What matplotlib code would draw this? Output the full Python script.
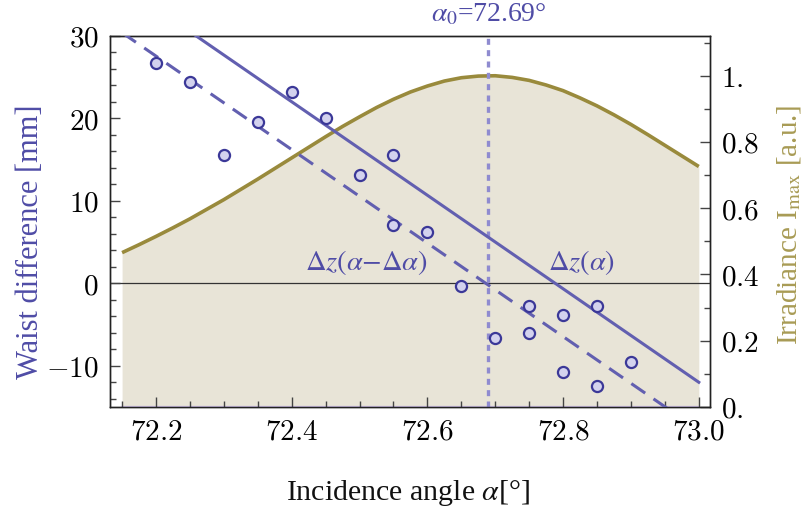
import matplotlib
matplotlib.use("Agg")
import matplotlib.pyplot as plt
from matplotlib.ticker import MultipleLocator, FixedLocator

plt.rcParams['font.family'] = ['Liberation Serif', 'DejaVu Serif']
plt.rcParams['mathtext.fontset'] = 'stix'

# ---- data ----
angle_meas = [72.20, 72.25, 72.30, 72.35, 72.40, 72.45, 72.50, 72.55, 72.55, 72.60,
              72.65, 72.70, 72.75, 72.75, 72.80, 72.80, 72.85, 72.85, 72.90]
waist_meas = [26.7, 24.4, 15.6, 19.6, 23.2, 20.0, 13.1, 15.6, 7.1, 6.2,
              -0.3, -6.6, -2.7, -6.0, -3.8, -10.8, -2.7, -12.5, -9.5]

fit_angle = [72.15, 73.00]
fit_dz = [36.2, -12.0]            # Δz(α)
fit_dz_shift = [30.4, -17.8]      # Δz(α−Δα)

irr_angle = [72.150, 72.175, 72.200, 72.225, 72.250, 72.275, 72.300, 72.325, 72.350,
             72.375, 72.400, 72.425, 72.450, 72.475, 72.500, 72.525, 72.550, 72.575,
             72.600, 72.625, 72.650, 72.675, 72.700, 72.725, 72.750, 72.775, 72.800,
             72.825, 72.850, 72.875, 72.900, 72.925, 72.950, 72.975, 73.000]
irr_value = [0.466, 0.490, 0.515, 0.541, 0.568, 0.597, 0.626, 0.657, 0.688,
             0.720, 0.752, 0.784, 0.816, 0.847, 0.876, 0.904, 0.929, 0.951,
             0.969, 0.984, 0.994, 0.999, 1.000, 0.995, 0.986, 0.972, 0.955,
             0.933, 0.909, 0.882, 0.853, 0.822, 0.790, 0.758, 0.726]

alpha0 = 72.69

left_ticks = [30, 20, 10, 0, -10]
right_ticks = [0.0, 0.2, 0.4, 0.6, 0.8, 1.0]
right_ticklabels = ["0.", "0.2", "0.4", "0.6", "0.8", "1."]
x_ticks = [72.2, 72.4, 72.6, 72.8, 73.0]

# ---- colours ----
purple = "#625fb0"
purple_txt = "#4f4ca6"
mk_edge = "#3b3898"
mk_face = "#d3d2ee"
olive = "#998a3c"
olive_txt = "#a89b55"
fill_col = "#e8e4d7"
vline_col = "#8f8bd0"

fig = plt.figure(figsize=(8.03, 5.10), dpi=100)
ax = fig.add_axes([110/803, 102/510, 600/803, 371/510])
ax2 = ax.twinx()

# background irradiance (twin axis)
ax2.fill_between(irr_angle, 0, irr_value, color=fill_col, lw=0, zorder=1)
ax2.plot(irr_angle, irr_value, color=olive, lw=2.6, zorder=2, solid_capstyle='butt')
ax2.plot([irr_angle[0], irr_angle[-1]], [0, 0], color="#c4b6dc", lw=1.6, zorder=3)
ax2.set_ylim(0, 1.12)

ax.set_zorder(ax2.get_zorder() + 1)
ax.patch.set_visible(False)

ax.axhline(0, color="#333333", lw=0.9, zorder=1)
ax.axvline(alpha0, color=vline_col, lw=2.4, dashes=(1.8, 1.6), zorder=2)
ax.plot(fit_angle, fit_dz, color=purple, lw=2.2, zorder=3)
ax.plot(fit_angle, fit_dz_shift, color=purple, lw=2.2, dashes=(5.5, 3.3), zorder=3)
ax.plot(angle_meas, waist_meas, 'o', ms=8.0, mfc=mk_face, mec=mk_edge, mew=1.6,
        zorder=4, clip_on=False)

ax.set_xlim(72.1322, 73.0165)
ax.set_ylim(-15, 30)

tick_kw = dict(fontsize=21, math_fontfamily='cm')

def mt(s):
    return "$" + s + "$"

ax.xaxis.set_major_locator(FixedLocator(x_ticks))
ax.xaxis.set_minor_locator(MultipleLocator(0.05))
ax.set_xticklabels([mt(f"{v:.1f}") for v in x_ticks], **tick_kw)
ax.yaxis.set_major_locator(FixedLocator(left_ticks))
ax.yaxis.set_minor_locator(MultipleLocator(2))
ax.set_yticklabels([mt(str(v)) for v in left_ticks], **tick_kw)

ax2.yaxis.set_major_locator(FixedLocator(right_ticks))
ax2.yaxis.set_minor_locator(MultipleLocator(0.1))
ax2.set_yticklabels([mt(s) for s in right_ticklabels], **tick_kw)

ax.tick_params(which='both', direction='in', top=False, right=False, color="#444444", width=1)
ax.tick_params(which='major', length=7, pad=8)
ax.tick_params(which='minor', length=4)
ax2.tick_params(which='both', direction='in', left=False, right=True, color="#444444", width=1)
ax2.tick_params(which='major', length=7, pad=8)
ax2.tick_params(which='minor', length=4)

for a in (ax, ax2):
    for s in a.spines.values():
        s.set_color("#222222")
        s.set_linewidth(1.0)

ax.set_xlabel(r"Incidence angle $\alpha$[°]", fontsize=21.5, color="#111111")
ax.xaxis.set_label_coords(0.496, -0.189)
ax.set_ylabel("Waist difference [mm]", fontsize=22, color=purple_txt)
ax.yaxis.set_label_coords(-0.108, 0.447)
ax2.set_ylabel(r"Irradiance I$_{\mathrm{max}}$ [a.u.]", fontsize=21, color=olive_txt)
ax2.yaxis.set_label_coords(1.108, 0.495)

ax.text(alpha0, 1.06, r"$\alpha_0$=72.69°", transform=ax.get_xaxis_transform(),
        ha='center', va='center', fontsize=20, color=purple_txt)
ax.text(72.51, 2.7, r"$\Delta z(\alpha{-}\Delta\alpha)$", ha='center', va='center',
        fontsize=20.5, color=purple_txt, zorder=5)
ax.text(72.827, 2.7, r"$\Delta z(\alpha)$", ha='center', va='center',
        fontsize=20.5, color=purple_txt, zorder=5)

fig.savefig("out.png", dpi=100)
